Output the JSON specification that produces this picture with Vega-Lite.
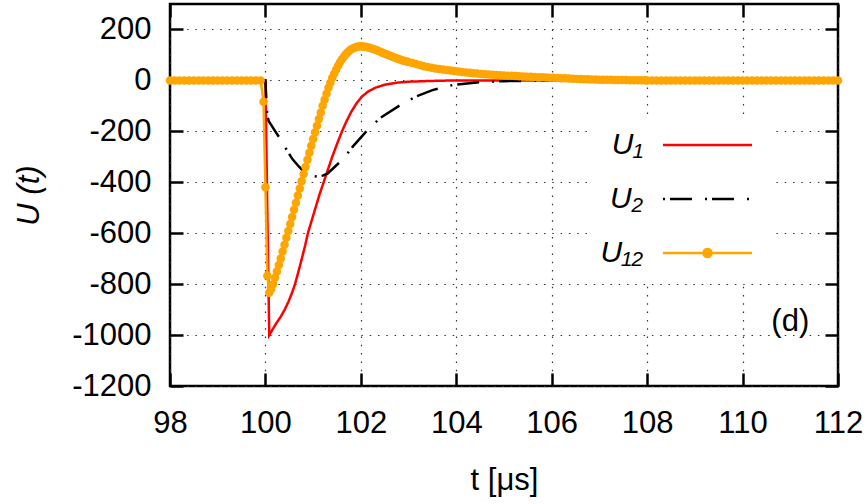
{
  "$schema": "https://vega.github.io/schema/vega-lite/v6.json",
  "width": 668,
  "height": 382,
  "autosize": "none",
  "padding": {"left": 170, "top": 4, "right": 29, "bottom": 118},
  "background": "white",
  "config": {
    "font": "Liberation Sans",
    "view": {"stroke": "black", "strokeWidth": 2.5},
    "axis": {
      "labelFont": "Liberation Sans",
      "titleFont": "Liberation Sans",
      "labelColor": "black",
      "titleColor": "black",
      "titleFontWeight": "normal",
      "labelFontSize": 31,
      "titleFontSize": 31,
      "gridColor": "#333333",
      "gridDash": [1.5, 6.8],
      "gridWidth": 1.2,
      "gridOpacity": 1,
      "tickColor": "black",
      "tickWidth": 2.5,
      "tickSize": -13,
      "domain": false,
      "labelFlush": false,
      "labelOverlap": false
    }
  },
  "datasets": {
    "lines": [
      {"s": "U₁", "t": 98, "u": 0},
      {"s": "U₁", "t": 100, "u": 0},
      {"s": "U₁", "t": 100.04, "u": -520},
      {"s": "U₁", "t": 100.08, "u": -1000},
      {"s": "U₁", "t": 100.15, "u": -978},
      {"s": "U₁", "t": 100.23, "u": -953},
      {"s": "U₁", "t": 100.32, "u": -928},
      {"s": "U₁", "t": 100.41, "u": -898},
      {"s": "U₁", "t": 100.48, "u": -870},
      {"s": "U₁", "t": 100.55, "u": -838},
      {"s": "U₁", "t": 100.62, "u": -800},
      {"s": "U₁", "t": 100.69, "u": -752},
      {"s": "U₁", "t": 100.76, "u": -702},
      {"s": "U₁", "t": 100.83, "u": -650},
      {"s": "U₁", "t": 100.89, "u": -600},
      {"s": "U₁", "t": 100.97, "u": -550},
      {"s": "U₁", "t": 101.05, "u": -500},
      {"s": "U₁", "t": 101.13, "u": -450},
      {"s": "U₁", "t": 101.22, "u": -400},
      {"s": "U₁", "t": 101.31, "u": -350},
      {"s": "U₁", "t": 101.4, "u": -300},
      {"s": "U₁", "t": 101.5, "u": -250},
      {"s": "U₁", "t": 101.6, "u": -202},
      {"s": "U₁", "t": 101.7, "u": -160},
      {"s": "U₁", "t": 101.8, "u": -123},
      {"s": "U₁", "t": 101.91, "u": -90},
      {"s": "U₁", "t": 102.02, "u": -64},
      {"s": "U₁", "t": 102.15, "u": -44},
      {"s": "U₁", "t": 102.3, "u": -29},
      {"s": "U₁", "t": 102.5, "u": -17},
      {"s": "U₁", "t": 102.75, "u": -9},
      {"s": "U₁", "t": 103.0, "u": -5},
      {"s": "U₁", "t": 103.5, "u": -2},
      {"s": "U₁", "t": 104.0, "u": 0},
      {"s": "U₁", "t": 112, "u": 0},
      {"s": "U₂", "t": 98, "u": 0},
      {"s": "U₂", "t": 100, "u": 0},
      {"s": "U₂", "t": 100.02, "u": -80},
      {"s": "U₂", "t": 100.04, "u": -140},
      {"s": "U₂", "t": 100.07, "u": -160},
      {"s": "U₂", "t": 100.11, "u": -172},
      {"s": "U₂", "t": 100.2, "u": -198},
      {"s": "U₂", "t": 100.35, "u": -241},
      {"s": "U₂", "t": 100.48, "u": -284},
      {"s": "U₂", "t": 100.57, "u": -310},
      {"s": "U₂", "t": 100.7, "u": -338},
      {"s": "U₂", "t": 100.8, "u": -358},
      {"s": "U₂", "t": 100.9, "u": -368},
      {"s": "U₂", "t": 101.0, "u": -375},
      {"s": "U₂", "t": 101.1, "u": -378},
      {"s": "U₂", "t": 101.2, "u": -374},
      {"s": "U₂", "t": 101.3, "u": -366},
      {"s": "U₂", "t": 101.45, "u": -340},
      {"s": "U₂", "t": 101.64, "u": -306},
      {"s": "U₂", "t": 101.83, "u": -260},
      {"s": "U₂", "t": 102.1, "u": -203},
      {"s": "U₂", "t": 102.4, "u": -148},
      {"s": "U₂", "t": 102.8, "u": -100},
      {"s": "U₂", "t": 103.17, "u": -62},
      {"s": "U₂", "t": 103.5, "u": -38},
      {"s": "U₂", "t": 103.93, "u": -18},
      {"s": "U₂", "t": 104.5, "u": -7},
      {"s": "U₂", "t": 105, "u": -3},
      {"s": "U₂", "t": 106, "u": 0},
      {"s": "U₂", "t": 112, "u": 0}
    ],
    "u12": [
      {"t": 98.0, "u": 0}, {"t": 98.1, "u": 0}, {"t": 98.2, "u": 0}, {"t": 98.3, "u": 0}, {"t": 98.4, "u": 0},
      {"t": 98.5, "u": 0}, {"t": 98.6, "u": 0}, {"t": 98.7, "u": 0}, {"t": 98.8, "u": 0}, {"t": 98.9, "u": 0},
      {"t": 99.0, "u": 0}, {"t": 99.1, "u": 0}, {"t": 99.2, "u": 0}, {"t": 99.3, "u": 0}, {"t": 99.4, "u": 0},
      {"t": 99.5, "u": 0}, {"t": 99.6, "u": 0}, {"t": 99.7, "u": 0}, {"t": 99.8, "u": 0}, {"t": 99.9, "u": 0},
      {"t": 99.96, "u": -84}, {"t": 100.0, "u": -420}, {"t": 100.04, "u": -767}, {"t": 100.08, "u": -834},
      {"t": 100.12, "u": -820}, {"t": 100.16, "u": -800}, {"t": 100.2, "u": -775}, {"t": 100.24, "u": -750},
      {"t": 100.28, "u": -725}, {"t": 100.32, "u": -699}, {"t": 100.36, "u": -672}, {"t": 100.4, "u": -645},
      {"t": 100.44, "u": -618}, {"t": 100.48, "u": -591}, {"t": 100.52, "u": -564}, {"t": 100.56, "u": -536},
      {"t": 100.6, "u": -508}, {"t": 100.64, "u": -480}, {"t": 100.68, "u": -452}, {"t": 100.72, "u": -424},
      {"t": 100.76, "u": -396}, {"t": 100.8, "u": -368}, {"t": 100.84, "u": -340}, {"t": 100.88, "u": -312},
      {"t": 100.92, "u": -284}, {"t": 100.96, "u": -257}, {"t": 101.0, "u": -230}, {"t": 101.04, "u": -204},
      {"t": 101.08, "u": -178}, {"t": 101.12, "u": -152}, {"t": 101.16, "u": -126}, {"t": 101.2, "u": -100},
      {"t": 101.24, "u": -76}, {"t": 101.28, "u": -52}, {"t": 101.32, "u": -29}, {"t": 101.36, "u": -9},
      {"t": 101.4, "u": 10}, {"t": 101.44, "u": 26}, {"t": 101.48, "u": 42}, {"t": 101.52, "u": 57},
      {"t": 101.56, "u": 70}, {"t": 101.6, "u": 82}, {"t": 101.64, "u": 92}, {"t": 101.68, "u": 102},
      {"t": 101.72, "u": 110}, {"t": 101.76, "u": 116}, {"t": 101.8, "u": 122}, {"t": 101.84, "u": 126},
      {"t": 101.88, "u": 129}, {"t": 101.92, "u": 132}, {"t": 101.96, "u": 133}, {"t": 102.0, "u": 134},
      {"t": 102.04, "u": 133}, {"t": 102.08, "u": 132}, {"t": 102.12, "u": 131}, {"t": 102.16, "u": 129},
      {"t": 102.2, "u": 127}, {"t": 102.24, "u": 124}, {"t": 102.28, "u": 122}, {"t": 102.32, "u": 119},
      {"t": 102.36, "u": 116}, {"t": 102.4, "u": 113}, {"t": 102.44, "u": 110}, {"t": 102.48, "u": 107},
      {"t": 102.52, "u": 104}, {"t": 102.56, "u": 101}, {"t": 102.6, "u": 98}, {"t": 102.64, "u": 95},
      {"t": 102.68, "u": 92}, {"t": 102.72, "u": 89}, {"t": 102.76, "u": 86}, {"t": 102.8, "u": 83},
      {"t": 102.84, "u": 81}, {"t": 102.88, "u": 78}, {"t": 102.92, "u": 76}, {"t": 102.96, "u": 74},
      {"t": 103.0, "u": 72}, {"t": 103.08, "u": 68}, {"t": 103.16, "u": 64}, {"t": 103.24, "u": 60},
      {"t": 103.32, "u": 56}, {"t": 103.4, "u": 53}, {"t": 103.48, "u": 50}, {"t": 103.56, "u": 47},
      {"t": 103.64, "u": 45}, {"t": 103.72, "u": 43}, {"t": 103.8, "u": 41}, {"t": 103.88, "u": 39},
      {"t": 103.96, "u": 37}, {"t": 104.04, "u": 35}, {"t": 104.12, "u": 33}, {"t": 104.2, "u": 31.5},
      {"t": 104.28, "u": 30}, {"t": 104.36, "u": 28.5}, {"t": 104.44, "u": 27}, {"t": 104.52, "u": 25.5},
      {"t": 104.6, "u": 24.5}, {"t": 104.68, "u": 23.5}, {"t": 104.76, "u": 22.5}, {"t": 104.84, "u": 21.5},
      {"t": 104.92, "u": 20.5}, {"t": 105.0, "u": 19.5}, {"t": 105.08, "u": 18.5}, {"t": 105.16, "u": 18},
      {"t": 105.24, "u": 17}, {"t": 105.32, "u": 16}, {"t": 105.4, "u": 15.5}, {"t": 105.48, "u": 14.5},
      {"t": 105.56, "u": 14}, {"t": 105.64, "u": 13}, {"t": 105.72, "u": 12.5}, {"t": 105.8, "u": 12},
      {"t": 105.88, "u": 11}, {"t": 105.96, "u": 10.5}, {"t": 106.04, "u": 10}, {"t": 106.12, "u": 9},
      {"t": 106.2, "u": 8.5}, {"t": 106.28, "u": 8}, {"t": 106.36, "u": 7}, {"t": 106.44, "u": 6.5},
      {"t": 106.52, "u": 6}, {"t": 106.6, "u": 5.5}, {"t": 106.68, "u": 5}, {"t": 106.76, "u": 4.5},
      {"t": 106.84, "u": 4}, {"t": 106.92, "u": 3.5}, {"t": 107.0, "u": 3}, {"t": 107.08, "u": 3},
      {"t": 107.16, "u": 2.5}, {"t": 107.24, "u": 2.5}, {"t": 107.32, "u": 2}, {"t": 107.4, "u": 2},
      {"t": 107.48, "u": 1.5}, {"t": 107.56, "u": 1.5}, {"t": 107.64, "u": 1}, {"t": 107.72, "u": 1},
      {"t": 107.8, "u": 1}, {"t": 107.88, "u": 0.5}, {"t": 107.96, "u": 0.5},
      {"t": 108.0, "u": 0}, {"t": 108.1, "u": 0}, {"t": 108.2, "u": 0}, {"t": 108.3, "u": 0}, {"t": 108.4, "u": 0},
      {"t": 108.5, "u": 0}, {"t": 108.6, "u": 0}, {"t": 108.7, "u": 0}, {"t": 108.8, "u": 0}, {"t": 108.9, "u": 0},
      {"t": 109.0, "u": 0}, {"t": 109.1, "u": 0}, {"t": 109.2, "u": 0}, {"t": 109.3, "u": 0}, {"t": 109.4, "u": 0},
      {"t": 109.5, "u": 0}, {"t": 109.6, "u": 0}, {"t": 109.7, "u": 0}, {"t": 109.8, "u": 0}, {"t": 109.9, "u": 0},
      {"t": 110.0, "u": 0}, {"t": 110.1, "u": 0}, {"t": 110.2, "u": 0}, {"t": 110.3, "u": 0}, {"t": 110.4, "u": 0},
      {"t": 110.5, "u": 0}, {"t": 110.6, "u": 0}, {"t": 110.7, "u": 0}, {"t": 110.8, "u": 0}, {"t": 110.9, "u": 0},
      {"t": 111.0, "u": 0}, {"t": 111.1, "u": 0}, {"t": 111.2, "u": 0}, {"t": 111.3, "u": 0}, {"t": 111.4, "u": 0},
      {"t": 111.5, "u": 0}, {"t": 111.6, "u": 0}, {"t": 111.7, "u": 0}, {"t": 111.8, "u": 0}, {"t": 111.9, "u": 0},
      {"t": 112.0, "u": 0}
    ]
  },
  "layer": [
    {
      "data": {"name": "lines"},
      "mark": {"type": "line", "strokeWidth": 2.5, "strokeCap": "butt"},
      "encoding": {
        "x": {
          "field": "t", "type": "quantitative",
          "scale": {"domain": [98, 112], "nice": false, "zero": false},
          "axis": {"orient": "bottom", "values": [98, 100, 102, 104, 106, 108, 110, 112], "labelExpr": "'' + datum.value", "title": "t [μs]", "grid": true, "labelPadding": 35, "titlePadding": 27}
        },
        "y": {
          "field": "u", "type": "quantitative",
          "scale": {"domain": [-1200, 300], "nice": false, "zero": false},
          "axis": {"orient": "left", "values": [-1200, -1000, -800, -600, -400, -200, 0, 200], "labelExpr": "'' + datum.value", "title": "U (t)", "titleFontStyle": "italic", "grid": true, "labelPadding": 32, "titlePadding": 26}
        },
        "color": {
          "field": "s", "type": "nominal",
          "scale": {"domain": ["U₁", "U₂", "U₁₂"], "range": ["#ff0000", "#000000", "#ffa500"]},
          "legend": {
            "title": null, "orient": "none", "legendX": 421, "legendY": 114, "direction": "vertical",
            "symbolType": "M-5,0H5", "symbolSize": 317, "symbolStrokeWidth": 2.5, "symbolOffset": 89.5,
            "labelAlign": "right", "labelOffset": -79.5, "labelFontSize": 30, "labelFontStyle": "italic",
            "labelFont": "Liberation Sans", "labelColor": "black", "labelLimit": 0,
            "rowPadding": 24, "padding": 12, "fillColor": "white",
            "encode": {"symbols": {"update": {
              "shape": {"signal": "datum.value === 'U₁₂' ? 'M-5,0H5M0.45,0A0.45,0.45,0,1,1,-0.45,0A0.45,0.45,0,1,1,0.45,0Z' : 'M-5,0H5'"},
              "fill": {"value": "#ffa500"}
            }}}
          }
        },
        "strokeDash": {
          "field": "s", "type": "nominal",
          "scale": {"domain": ["U₁", "U₂", "U₁₂"], "range": [[1, 0], [2, 5, 22, 13], [1, 0]]},
          "legend": {
            "title": null, "orient": "none", "legendX": 421, "legendY": 114, "direction": "vertical",
            "symbolType": "M-5,0H5", "symbolSize": 317, "symbolStrokeWidth": 2.5, "symbolOffset": 89.5,
            "labelAlign": "right", "labelOffset": -79.5, "labelFontSize": 30, "labelFontStyle": "italic",
            "labelFont": "Liberation Sans", "labelColor": "black", "labelLimit": 0,
            "rowPadding": 24, "padding": 12, "fillColor": "white"
          }
        }
      }
    },
    {
      "data": {"name": "u12"},
      "mark": {"type": "line", "strokeWidth": 2.5},
      "encoding": {
        "x": {"field": "t", "type": "quantitative", "axis": null},
        "y": {"field": "u", "type": "quantitative", "axis": null},
        "color": {"datum": "U₁₂"},
        "strokeDash": {"datum": "U₁₂"}
      }
    },
    {
      "data": {"name": "u12"},
      "mark": {"type": "point", "filled": true, "size": 72, "opacity": 1, "color": "#ffa500"},
      "encoding": {
        "x": {"field": "t", "type": "quantitative",
          "axis": {"orient": "top", "labels": false, "title": null, "grid": false, "values": [98, 100, 102, 104, 106, 108, 110, 112]}},
        "y": {"field": "u", "type": "quantitative",
          "axis": {"orient": "right", "labels": false, "title": null, "grid": false, "values": [-1200, -1000, -800, -600, -400, -200, 0, 200]}}
      }
    },
    {
      "data": {"values": [{"label": "(d)"}]},
      "mark": {"type": "text", "fontSize": 31, "font": "Liberation Sans", "align": "center", "baseline": "middle", "color": "black"},
      "encoding": {
        "x": {"datum": 111, "axis": null},
        "y": {"datum": -950, "axis": null},
        "text": {"field": "label"}
      }
    }
  ],
  "resolve": {"axis": {"x": "independent", "y": "independent"}}
}
